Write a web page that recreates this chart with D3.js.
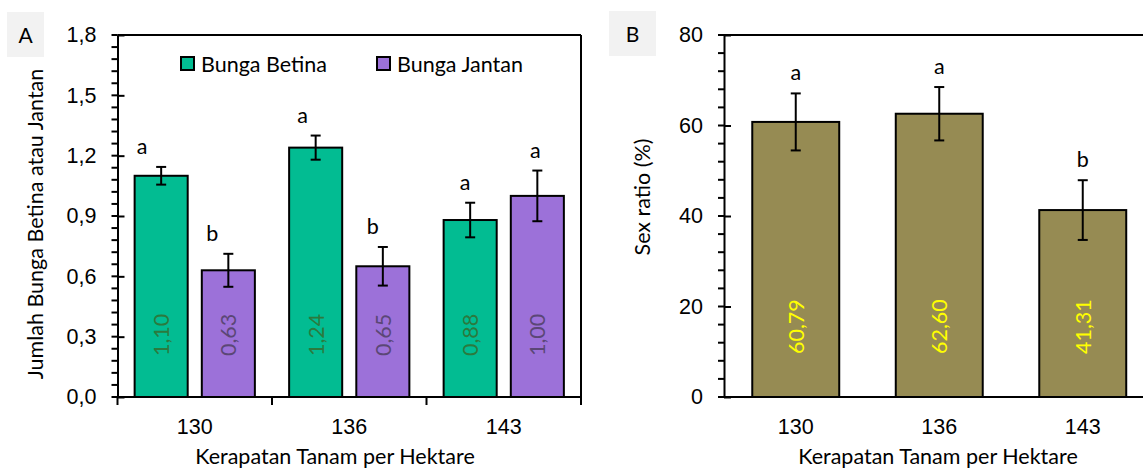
<!DOCTYPE html>
<html>
<head>
<meta charset="utf-8">
<script src="https://cdn.jsdelivr.net/npm/d3@7"></script>
<style>
  body { margin: 0; background: #fff; }
  svg { display: block; font-family: Lato, "Open Sans", sans-serif; }
</style>
</head>
<body>
<div class="viz"></div>
<script>
// data
const categories = ["130", "136", "143"];
const seriesNames = ["Bunga Betina", "Bunga Jantan"];
const betina = [1.10, 1.24, 0.88];
const jantan = [0.63, 0.65, 1.00];
const betinaErr = [0.044, 0.06, 0.086];
const jantanErr = [0.082, 0.096, 0.126];
const betinaLetters = ["a", "a", "a"];
const jantanLetters = ["b", "b", "a"];
const ticksA = [0, 0.3, 0.6, 0.9, 1.2, 1.5, 1.8];

const sexRatio = [60.79, 62.60, 41.31];
const sexRatioErr = [6.3, 5.9, 6.6];
const sexRatioLetters = ["a", "a", "b"];
const ticksB = [0, 20, 40, 60, 80];

const colors = { betina: "#02bc92", jantan: "#9c71d9", ratio: "#968b53" };
const labelColors = { betina: "#2b7a3e", jantan: "#5b4776", ratio: "#ffff00" };

const W = 1143, H = 468;
const fontSize = 21.5;
const locale = d3.formatLocale({ decimal: ",", thousands: ".", grouping: [3], currency: ["", ""] });
const f1 = locale.format(".1f"), f2 = locale.format(".2f");

const svg = d3.select(".viz").append("svg").attr("width", W).attr("height", H);

function panelLabel(txt, x, y, w, h) {
  svg.append("rect").attr("x", x).attr("y", y).attr("width", w).attr("height", h).attr("fill", "#f2f2f2");
  svg.append("text").attr("x", x + w / 2).attr("y", y + h / 2).attr("text-anchor", "middle")
    .attr("dominant-baseline", "central").attr("font-size", 21).text(txt);
}

function minorTicks(g, scale, x0, step, max) {
  const vals = d3.range(0, max + step / 2, step);
  g.selectAll("line.minor").data(vals).join("line").attr("class", "minor")
    .attr("x1", x0 - 6).attr("x2", x0).attr("y1", d => scale(d)).attr("y2", d => scale(d))
    .attr("stroke", "#000").attr("stroke-width", 2);
}

function styleAxis(g) {
  g.selectAll(".domain").attr("stroke", "#000").attr("stroke-width", 2);
  g.selectAll(".tick line").attr("stroke", "#000").attr("stroke-width", 2);
  g.selectAll(".tick text").attr("font-size", fontSize).attr("fill", "#000").attr("font-family", null);
}

// ---------- panel A ----------
panelLabel("A", 7, 12, 37, 45);
const a = { left: 117.5, right: 581, top: 35, bottom: 397 };

const xA = d3.scaleBand().domain(categories).range([a.left, a.right]);
const xA1 = d3.scaleBand().domain(seriesNames).range([0, xA.bandwidth()])
  .paddingInner(0.21).paddingOuter(0.255);
const yA = d3.scaleLinear().domain([0, 1.8]).range([a.bottom, a.top]);

const dataA = categories.map((c, i) => [
  { cat: c, name: seriesNames[0], key: "betina", v: betina[i], e: betinaErr[i], l: betinaLetters[i] },
  { cat: c, name: seriesNames[1], key: "jantan", v: jantan[i], e: jantanErr[i], l: jantanLetters[i] }
]).flat();
// hand-placed letter shift in the original, in px
const letterDxA = [-19, -16, -13, -10, -5, -2];

// frame
svg.append("line").attr("x1", a.left).attr("x2", a.right).attr("y1", a.top).attr("y2", a.top)
  .attr("stroke", "#000").attr("stroke-width", 2);
svg.append("line").attr("x1", a.right).attr("x2", a.right).attr("y1", a.top).attr("y2", a.bottom)
  .attr("stroke", "#000").attr("stroke-width", 2);

const barsA = svg.append("g");
barsA.selectAll("rect").data(dataA).join("rect")
  .attr("x", d => xA(d.cat) + xA1(d.name))
  .attr("y", d => yA(d.v))
  .attr("width", xA1.bandwidth())
  .attr("height", d => yA(0) - yA(d.v))
  .attr("fill", d => colors[d.key])
  .attr("stroke", "#000").attr("stroke-width", 2);

const cxA = d => xA(d.cat) + xA1(d.name) + xA1.bandwidth() / 2;
const errA = svg.append("g").attr("stroke", "#000").attr("stroke-width", 2);
errA.selectAll("line.v").data(dataA).join("line").attr("class", "v")
  .attr("x1", cxA).attr("x2", cxA).attr("y1", d => yA(d.v - d.e)).attr("y2", d => yA(d.v + d.e));
errA.selectAll("line.t").data(dataA).join("line").attr("class", "t")
  .attr("x1", d => cxA(d) - 5).attr("x2", d => cxA(d) + 5).attr("y1", d => yA(d.v + d.e)).attr("y2", d => yA(d.v + d.e));
errA.selectAll("line.b").data(dataA).join("line").attr("class", "b")
  .attr("x1", d => cxA(d) - 5).attr("x2", d => cxA(d) + 5).attr("y1", d => yA(d.v - d.e)).attr("y2", d => yA(d.v - d.e));

svg.append("g").selectAll("text").data(dataA).join("text")
  .attr("x", (d, i) => cxA(d) + letterDxA[i]).attr("y", d => yA(d.v + d.e) - 21)
  .attr("text-anchor", "middle").attr("dominant-baseline", "central").attr("font-size", fontSize)
  .text(d => d.l);

svg.append("g").selectAll("text").data(dataA).join("text")
  .attr("transform", d => `translate(${cxA(d)},${yA(0) - 41}) rotate(-90)`)
  .attr("dominant-baseline", "central").attr("font-size", fontSize)
  .attr("fill", d => labelColors[d.key])
  .text(d => f2(d.v));

// axes A
const yAxisA = svg.append("g").attr("transform", `translate(${a.left},0)`)
  .call(d3.axisLeft(yA).tickValues(ticksA).tickFormat(f1).tickSizeOuter(0).tickSizeInner(7).tickPadding(14));
yAxisA.selectAll(".tick line").attr("x2", 7);
minorTicks(yAxisA.append("g").attr("transform", `translate(${-a.left},0)`), yA, a.left, 0.06, 1.8);
styleAxis(yAxisA);

const xAxisA = svg.append("g").attr("transform", `translate(0,${a.bottom})`)
  .call(d3.axisBottom(xA).tickSize(0).tickPadding(22).tickSizeOuter(0));
styleAxis(xAxisA);
xAxisA.select(".domain").attr("d", `M${a.left},0H${a.right}`);
xAxisA.selectAll("line.sep").data([...categories.map(c => xA(c)), a.right]).join("line").attr("class", "sep")
  .attr("x1", d => d).attr("x2", d => d).attr("y1", 0).attr("y2", 8)
  .attr("stroke", "#000").attr("stroke-width", 2);

svg.append("text").attr("x", 335).attr("y", 456).attr("text-anchor", "middle")
  .attr("dominant-baseline", "central").attr("font-size", fontSize).text("Kerapatan Tanam per Hektare");
svg.append("text").attr("transform", "translate(35,224) rotate(-90)").attr("text-anchor", "middle")
  .attr("dominant-baseline", "central").attr("font-size", fontSize).text("Jumlah Bunga Betina atau Jantan");

// legend A
const legendX = [181, 377];
const leg = svg.append("g").selectAll("g").data(seriesNames).join("g")
  .attr("transform", (d, i) => `translate(${legendX[i]},57)`);
leg.append("rect").attr("width", 13).attr("height", 13)
  .attr("fill", (d, i) => i === 0 ? colors.betina : colors.jantan).attr("stroke", "#000").attr("stroke-width", 2);
leg.append("text").attr("x", 20).attr("y", 6.5).attr("dominant-baseline", "central")
  .attr("font-size", fontSize).text(d => d);

// ---------- panel B ----------
panelLabel("B", 609, 11, 47, 45);
const b = { left: 724, right: 1154.5, top: 35, bottom: 397 };
const xB = d3.scaleBand().domain(categories).range([b.left, b.right]).paddingInner(0.394).paddingOuter(0.197);
const yB = d3.scaleLinear().domain([0, 80]).range([b.bottom, b.top]);
const dataB = categories.map((c, i) => ({ cat: c, v: sexRatio[i], e: sexRatioErr[i], l: sexRatioLetters[i] }));
const cxB = d => xB(d.cat) + xB.bandwidth() / 2;

svg.append("line").attr("x1", b.left).attr("x2", b.right).attr("y1", b.top).attr("y2", b.top)
  .attr("stroke", "#000").attr("stroke-width", 2);

svg.append("g").selectAll("rect").data(dataB).join("rect")
  .attr("x", d => xB(d.cat)).attr("y", d => yB(d.v))
  .attr("width", xB.bandwidth()).attr("height", d => yB(0) - yB(d.v))
  .attr("fill", colors.ratio).attr("stroke", "#000").attr("stroke-width", 2);

const errB = svg.append("g").attr("stroke", "#000").attr("stroke-width", 2);
errB.selectAll("line.v").data(dataB).join("line").attr("class", "v")
  .attr("x1", cxB).attr("x2", cxB).attr("y1", d => yB(d.v - d.e)).attr("y2", d => yB(d.v + d.e));
errB.selectAll("line.t").data(dataB).join("line").attr("class", "t")
  .attr("x1", d => cxB(d) - 5).attr("x2", d => cxB(d) + 5).attr("y1", d => yB(d.v + d.e)).attr("y2", d => yB(d.v + d.e));
errB.selectAll("line.b").data(dataB).join("line").attr("class", "b")
  .attr("x1", d => cxB(d) - 5).attr("x2", d => cxB(d) + 5).attr("y1", d => yB(d.v - d.e)).attr("y2", d => yB(d.v - d.e));

svg.append("g").selectAll("text").data(dataB).join("text")
  .attr("x", cxB).attr("y", d => yB(d.v + d.e) - 21)
  .attr("text-anchor", "middle").attr("dominant-baseline", "central").attr("font-size", fontSize)
  .text(d => d.l);

svg.append("g").selectAll("text").data(dataB).join("text")
  .attr("transform", d => `translate(${cxB(d)},${yB(0) - 43}) rotate(-90)`)
  .attr("dominant-baseline", "central").attr("font-size", fontSize)
  .attr("fill", labelColors.ratio)
  .text(d => f2(d.v));

const yAxisB = svg.append("g").attr("transform", `translate(${b.left},0)`)
  .call(d3.axisLeft(yB).tickValues(ticksB).tickSizeOuter(0).tickSizeInner(7).tickPadding(14));
yAxisB.selectAll(".tick line").attr("x2", 7);
minorTicks(yAxisB.append("g").attr("transform", `translate(${-b.left},0)`), yB, b.left, 4, 80);
styleAxis(yAxisB);

const xAxisB = svg.append("g").attr("transform", `translate(0,${b.bottom})`)
  .call(d3.axisBottom(xB).tickSize(0).tickPadding(22).tickSizeOuter(0));
styleAxis(xAxisB);
xAxisB.select(".domain").attr("d", `M${b.left},0H${b.right}`);

svg.append("text").attr("x", 938).attr("y", 456).attr("text-anchor", "middle")
  .attr("dominant-baseline", "central").attr("font-size", fontSize).text("Kerapatan Tanam per Hektare");
svg.append("text").attr("transform", "translate(642,197) rotate(-90)").attr("text-anchor", "middle")
  .attr("dominant-baseline", "central").attr("font-size", fontSize).text("Sex ratio (%)");
</script>
</body>
</html>
